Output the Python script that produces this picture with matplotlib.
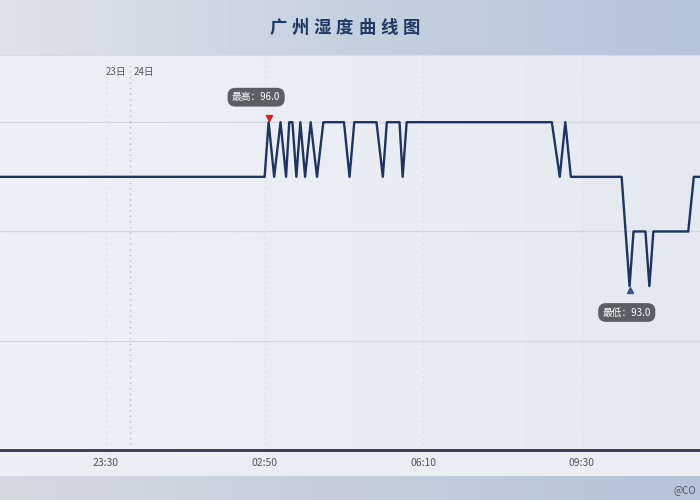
import numpy as np
import matplotlib
matplotlib.use("Agg")
import matplotlib.pyplot as plt

plt.rcParams['font.family'] = ['Noto Sans CJK SC', 'DejaVu Sans']

# data: minutes from 24日 00:00, humidity value
title = "广州湿度曲线图"
minutes = [-170, 170, 175, 182, 190, 197, 201, 205, 210, 215, 221, 228, 236, 244,
           270, 277, 283, 311, 319, 324, 340, 344, 349, 532, 542, 549, 556,
           620, 630, 635, 650, 655, 660, 704, 711, 730]
humidity = [95, 95, 96, 95, 96, 95, 96, 96, 95, 96, 95, 96, 95, 96,
            96, 95, 96, 96, 95, 96, 96, 95, 96, 96, 95, 96, 95,
            95, 93, 94, 94, 93, 94, 94, 95, 95]
tick_labels = ["23:30", "02:50", "06:10", "09:30"]
day_labels = ["23日", "24日"]
watermark = "@CO"


def to_min(s):
    h, m = map(int, s.split(":"))
    t = h * 60 + m
    if h >= 12:
        t -= 1440
    return t


fig = plt.figure(figsize=(7, 5), dpi=100)

# background bands
bg = fig.add_axes([0, 0, 1, 1], zorder=-5)
bg.set_xlim(0, 1)
bg.set_ylim(0, 1)
bg.axis('off')
grad = np.linspace(0, 1, 256).reshape(1, -1)
top_cmap = matplotlib.colors.LinearSegmentedColormap.from_list('t', ['#dde3ec', '#c6d1e0', '#b5c5da'])
bot_cmap = matplotlib.colors.LinearSegmentedColormap.from_list('b', ['#d4dae4', '#c4cedc', '#b6c5d9'])
mid_cmap = matplotlib.colors.LinearSegmentedColormap.from_list('m', ['#eef1f6', '#eaeef4', '#e4e9f1'])
bg.imshow(grad, extent=[0, 1, 0.89, 1], aspect='auto', cmap=top_cmap)
bg.imshow(grad, extent=[0, 1, 0.1, 0.89], aspect='auto', cmap=mid_cmap)
bg.add_patch(plt.Rectangle((0, 0.048), 1, 0.052, color='#eaeef3', lw=0))
bg.imshow(grad, extent=[0, 1, 0, 0.048], aspect='auto', cmap=bot_cmap)
bg.plot([0, 1], [0.89, 0.89], color='#d6dbe3', lw=0.8)

# title with spaced characters
for i, ch in enumerate(title):
    bg.text(0.397 + i * 0.0318, 0.944, ch, ha='center', va='center',
            fontsize=12.5, color='#1f3a63', fontweight='bold')

ax = fig.add_axes([0, 0.1, 1, 0.79])
ax.set_facecolor('none')
ax.set_xlim(-163.6, 718.8)
ax.set_ylim(90, 97.23)

ticks = [to_min(s) for s in tick_labels]
ax.set_xticks(ticks)
ax.set_xticklabels(tick_labels, fontsize=7.5, color='#555555')
ax.tick_params(axis='x', length=0, pad=6)
ax.set_yticks([])
for s in ['top', 'left', 'right']:
    ax.spines[s].set_visible(False)
ax.spines['bottom'].set_color('#2e3b4e')
ax.spines['bottom'].set_linewidth(2)

for y in [92, 94, 96]:
    ax.axhline(y, color='#d3d8df', lw=0.9, zorder=1)
for t in ticks:
    ax.axvline(t, color='#dde2e8', lw=0.8, ls=(0, (2, 3)), zorder=1)
ax.axvline(0, ymax=0.98, color='#b8bec8', lw=1, ls=(0, (1, 3)), zorder=1)

ax.text(-5, 0.957, day_labels[0], transform=ax.get_xaxis_transform(),
        ha='right', va='center', fontsize=7, color='#555555')
ax.text(5, 0.957, day_labels[1], transform=ax.get_xaxis_transform(),
        ha='left', va='center', fontsize=7, color='#555555')

ax.plot(minutes, humidity, color='#1d3560', lw=1.7, zorder=3)

imax = int(np.argmax(humidity))
imin = int(np.argmin(humidity))
ax.plot(minutes[imax], humidity[imax] + 0.08, marker='v', color='#d62020', ms=4, zorder=4)
ax.plot(minutes[imin], humidity[imin] - 0.08, marker='^', color='#2e5597', ms=4, zorder=4)

box = dict(boxstyle='round,pad=0.45,rounding_size=0.8', fc='#5b5e63', ec='none')
ax.annotate("最高：%.1f" % humidity[imax], (minutes[imax], humidity[imax]),
            xytext=(-9, 18), textcoords='offset points', ha='center', va='center',
            fontsize=7, color='white', bbox=box, zorder=5)
ax.annotate("最低：%.1f" % humidity[imin], (minutes[imin], humidity[imin]),
            xytext=(-2, -19), textcoords='offset points', ha='center', va='center',
            fontsize=7, color='white', bbox=box, zorder=5)

bg.text(0.962, 0.02, watermark, ha='left', va='center', fontsize=7, color='#555555')

fig.savefig('out.png', dpi=100)
